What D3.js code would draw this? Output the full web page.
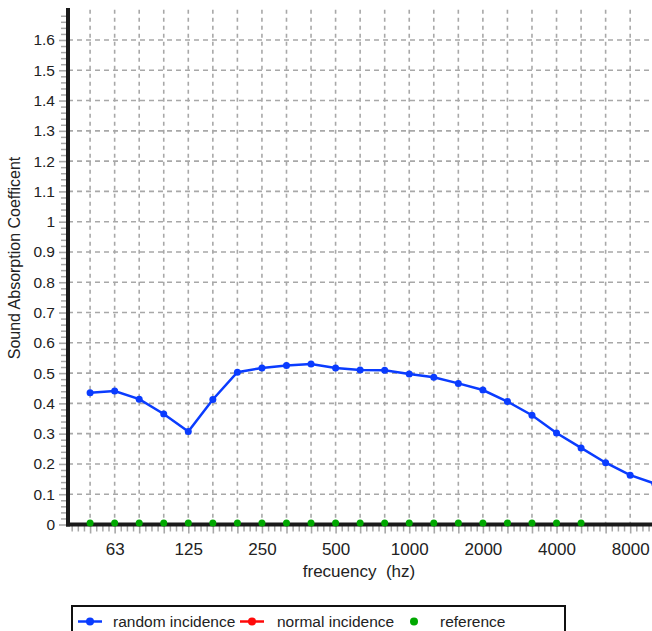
<!DOCTYPE html>
<html>
<head>
<meta charset="utf-8">
<script src="https://cdn.jsdelivr.net/npm/d3@7"></script>
<style>
  body { margin: 0; background: #fff; }
  svg { display: block; font-family: "Liberation Sans", Arial, sans-serif; }
</style>
</head>
<body>
<div id="vis"></div>
<script>
// frame size
const FRAME_WIDTH = 652;
const FRAME_HEIGHT = 631;

// third octave bands (index is used for x position)
const bands = ["50", "63", "80", "100", "125", "160", "200", "250", "315", "400", "500", "630",
               "800", "1000", "1250", "1600", "2000", "2500", "3150", "4000", "5000", "6300", "8000", "10000"];
const randomIncidence = [0.435, 0.441, 0.414, 0.365, 0.307, 0.413, 0.503, 0.517, 0.525, 0.530, 0.517, 0.510,
                         0.509, 0.497, 0.486, 0.466, 0.444, 0.406, 0.361, 0.302, 0.253, 0.204, 0.163, 0.135];
const normalIncidence = [];
const referenceBands = ["50", "63", "80", "100", "125", "160", "200", "250", "315", "400", "500", "630",
                        "800", "1000", "1250", "1600", "2000", "2500", "3150", "4000", "5000"];
const referenceValues = [0, 0, 0, 0, 0, 0, 0, 0, 0, 0, 0, 0, 0, 0, 0, 0, 0, 0, 0, 0, 0];
const xTickLabels = ["63", "125", "250", "500", "1000", "2000", "4000", "8000"];
const yTicks = [0, 0.1, 0.2, 0.3, 0.4, 0.5, 0.6, 0.7, 0.8, 0.9, 1, 1.1, 1.2, 1.3, 1.4, 1.5, 1.6];
const legendItems = ["random incidence", "normal incidence", "reference"];

const BLUE = "#0a3cff";
const RED = "#ff0a0a";
const GREEN = "#00a800";
const GRID = "#a8a8a8";

const svg = d3.select("#vis")
  .append("svg")
    .attr("width", FRAME_WIDTH)
    .attr("height", FRAME_HEIGHT);

// scales: x on band index, y linear
const X_SCALE = d3.scaleLinear().domain([-0.9, 23.5]).range([68, 667]);
const Y_SCALE = d3.scaleLinear().domain([0, 1.7]).range([524.5, 9.7]);
const X0 = 68, Y0 = Y_SCALE(0);

// grid lines
svg.append("g")
  .selectAll("line")
  .data(d3.range(1, 17).map((i) => i / 10))
  .enter()
  .append("line")
    .attr("x1", X0).attr("x2", FRAME_WIDTH)
    .attr("y1", (d) => Y_SCALE(d)).attr("y2", (d) => Y_SCALE(d))
    .attr("stroke", GRID).attr("stroke-width", 1.6)
    .attr("stroke-dasharray", "5,4");

svg.append("g")
  .selectAll("line")
  .data(bands)
  .enter()
  .append("line")
    .attr("x1", (d, i) => X_SCALE(i)).attr("x2", (d, i) => X_SCALE(i))
    .attr("y1", Y_SCALE(1.7)).attr("y2", Y0)
    .attr("stroke", GRID).attr("stroke-width", 1.6)
    .attr("stroke-dasharray", "4,4");

// minor and major ticks on axes
const minorX = [];
for (let i = -1; i < bands.length; i++) {
  [0.25, 0.5, 0.75].forEach((f) => minorX.push(i + f));
}
svg.append("g")
  .attr("transform", "translate(0," + Y0 + ")")
  .call(d3.axisBottom(X_SCALE).tickValues(minorX).tickSize(7).tickFormat(""))
  .call((g) => g.select(".domain").remove())
  .call((g) => g.selectAll("line").attr("stroke", GRID).attr("stroke-width", 1.5));

svg.append("g")
  .attr("transform", "translate(0," + Y0 + ")")
  .call(d3.axisBottom(X_SCALE)
          .tickValues(d3.range(bands.length))
          .tickSize(9).tickPadding(9)
          .tickFormat((i) => xTickLabels.includes(bands[i]) ? bands[i] : ""))
  .call((g) => g.select(".domain").remove())
  .call((g) => g.selectAll("line").attr("stroke", GRID).attr("stroke-width", 1.6))
  .call((g) => g.selectAll("text").attr("font-size", "17px").attr("fill", "#222")
                 .attr("font-family", "Liberation Sans, Arial, sans-serif"));

const minorY = d3.range(0, 85).map((i) => i / 50).filter((d, i) => i % 5 != 0);
svg.append("g")
  .attr("transform", "translate(" + X0 + ",0)")
  .call(d3.axisLeft(Y_SCALE).tickValues(minorY).tickSize(7).tickFormat(""))
  .call((g) => g.select(".domain").remove())
  .call((g) => g.selectAll("line").attr("stroke", GRID).attr("stroke-width", 1.5));

svg.append("g")
  .attr("transform", "translate(" + X0 + ",0)")
  .call(d3.axisLeft(Y_SCALE).tickValues(yTicks).tickSize(9).tickPadding(4)
          .tickFormat((d) => String(+d.toFixed(1))))
  .call((g) => g.select(".domain").remove())
  .call((g) => g.selectAll("line").attr("stroke", GRID).attr("stroke-width", 1.6))
  .call((g) => g.selectAll("text").attr("font-size", "15.5px").attr("fill", "#222")
                 .attr("font-family", "Liberation Sans, Arial, sans-serif"));

// axis lines
svg.append("line")
  .attr("x1", X0).attr("x2", X0).attr("y1", 8).attr("y2", Y0 + 2)
  .attr("stroke", "#1a1a1a").attr("stroke-width", 4);
svg.append("line")
  .attr("x1", X0 - 2).attr("x2", FRAME_WIDTH).attr("y1", Y0).attr("y2", Y0)
  .attr("stroke", "#1a1a1a").attr("stroke-width", 4);

// random incidence series
const line = d3.line()
  .x((d, i) => X_SCALE(i))
  .y((d) => Y_SCALE(d));

svg.append("path")
  .datum(randomIncidence)
  .attr("d", line)
  .attr("fill", "none")
  .attr("stroke", BLUE)
  .attr("stroke-width", 2.5);

svg.append("g")
  .selectAll("circle")
  .data(randomIncidence)
  .enter()
  .append("circle")
    .attr("cx", (d, i) => X_SCALE(i))
    .attr("cy", (d) => Y_SCALE(d))
    .attr("r", 3.5)
    .attr("fill", BLUE);

// normal incidence series (no data)
svg.append("g")
  .selectAll("circle")
  .data(normalIncidence)
  .enter()
  .append("circle")
    .attr("cx", (d, i) => X_SCALE(i))
    .attr("cy", (d) => Y_SCALE(d))
    .attr("r", 3.5)
    .attr("fill", RED);

// reference points
svg.append("g")
  .selectAll("circle")
  .data(referenceValues)
  .enter()
  .append("circle")
    .attr("cx", (d, i) => X_SCALE(bands.indexOf(referenceBands[i])))
    .attr("cy", (d) => Y_SCALE(d) - 1.5)
    .attr("r", 3.5)
    .attr("fill", GREEN);

// axis titles
svg.append("text")
  .attr("x", 359).attr("y", 577)
  .attr("text-anchor", "middle")
  .attr("font-size", "17px")
  .attr("fill", "#222")
  .style("white-space", "pre")
  .text("frecuency  (hz)");

svg.append("text")
  .attr("transform", "translate(20,258) rotate(-90)")
  .attr("text-anchor", "middle")
  .attr("font-size", "16px")
  .attr("fill", "#222")
  .text("Sound Absorption Coefficent");

// legend
const legend = svg.append("g");
legend.append("rect")
  .attr("x", 72).attr("y", 606)
  .attr("width", 493).attr("height", 34)
  .attr("fill", "#fff")
  .attr("stroke", "#111").attr("stroke-width", 2);

const legendColors = [BLUE, RED, GREEN];
const legendX = [78, 240, 402];
const legendTextX = [113, 277, 440];
legendItems.forEach((name, i) => {
  if (i < 2) {
    legend.append("line")
      .attr("x1", legendX[i]).attr("x2", legendX[i] + 24)
      .attr("y1", 621.5).attr("y2", 621.5)
      .attr("stroke", legendColors[i]).attr("stroke-width", 2.5);
  }
  legend.append("circle")
    .attr("cx", legendX[i] + 12).attr("cy", 621.5)
    .attr("r", 4)
    .attr("fill", legendColors[i]);
  legend.append("text")
    .attr("x", legendTextX[i]).attr("y", 627)
    .attr("font-size", "15.5px")
    .attr("fill", "#222")
    .text(name);
});
</script>
</body>
</html>
